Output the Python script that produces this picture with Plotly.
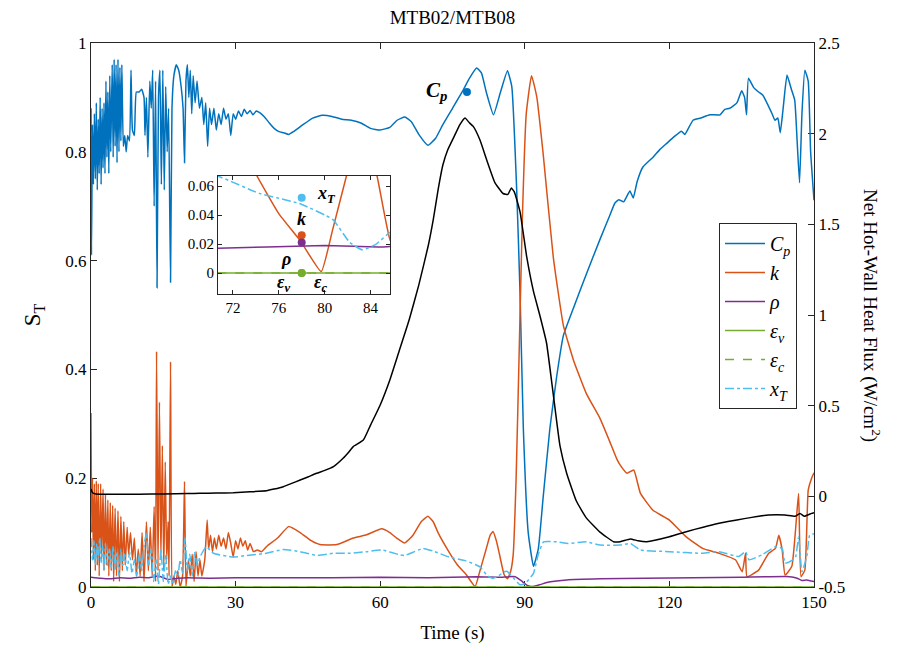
import plotly.graph_objects as go

# ---------------- data ----------------
cp_t = [0.0, 0.1, 0.3, 0.5, 0.7, 0.9, 1.1, 1.3, 1.5, 1.7, 1.9, 2.1, 2.3, 2.5, 2.7, 2.9, 3.1, 3.3, 3.5, 3.7,
        3.9, 4.1, 4.4, 4.6, 4.8, 5.0, 5.2, 5.4, 5.6, 5.8, 6.0, 6.2, 6.4, 6.7, 7.0, 7.3, 7.6, 8.0, 8.3, 8.6,
        9.0, 9.4, 10.0, 10.5, 11.0, 11.2, 11.5, 11.8, 12.2, 12.5, 12.8, 13.1, 13.4, 13.7, 14.0, 14.3, 14.6,
        14.9, 15.2, 15.5, 15.8, 16.1, 16.5, 16.8, 17.2, 17.7, 18.2, 18.7, 19.1, 19.4, 19.7, 20.0, 20.3, 20.6,
        20.9, 21.2, 21.6, 22.0, 22.5, 23.0, 23.4, 23.8, 24.2, 24.6, 25.0, 25.5, 26.0, 26.5, 27.0, 27.5, 28.0,
        28.5, 29.0, 29.5, 30.0, 30.6, 31.2, 31.8, 32.4, 33.0, 33.6, 34.3, 35, 36, 37, 38, 39, 40, 41, 42, 44,
        46, 48, 50, 52, 54, 56, 58, 60, 62, 63.5, 65.1, 66.5, 68, 69.9, 71.5, 73, 75, 77, 78.5, 80, 81, 82,
        83.5, 84.9, 86.4, 87.3, 88.3, 89, 89.7, 90.7, 91.8, 92.8, 93.8, 95.2, 96.6, 98, 100.1, 102.8, 105.6,
        107.5, 108.7, 109.5, 110.5, 111.8, 112.5, 113.3, 114.5, 116.7, 118, 119.5, 121, 122.5, 123.2, 124.9,
        126.5, 128.4, 130.5, 131.5, 132.5, 134, 135, 135.6, 136, 136.4, 137.5, 138.5, 139.4, 140.5, 141.3,
        141.9, 142.5, 143, 143.6, 144.4, 145.3, 146, 146.5, 147, 147.5, 148.1, 148.8, 149.3, 150]
cp_v = [0.88, 0.61, 0.85, 0.74, 0.87, 0.75, 0.89, 0.73, 0.86, 0.76, 0.90, 0.74, 0.88, 0.77, 0.89, 0.76, 0.93, 0.79,
        0.91, 0.76, 0.94, 0.80, 0.96, 0.79, 0.97, 0.81, 0.96, 0.78, 0.97, 0.80, 0.955, 0.82, 0.96, 0.81, 0.83,
        0.80, 0.83, 0.82, 0.95, 0.84, 0.83, 0.91, 0.91, 0.915, 0.90, 0.83, 0.90, 0.79, 0.93, 0.88, 0.95, 0.70,
        0.93, 0.55, 0.90, 0.95, 0.74, 0.95, 0.73, 0.92, 0.80, 0.88, 0.56, 0.88, 0.94, 0.96, 0.95, 0.92, 0.88,
        0.78, 0.93, 0.96, 0.90, 0.95, 0.87, 0.94, 0.89, 0.93, 0.88, 0.90, 0.85, 0.89, 0.81, 0.88, 0.85, 0.88,
        0.84, 0.87, 0.85, 0.88, 0.86, 0.87, 0.83, 0.87, 0.86, 0.875, 0.865, 0.878, 0.87, 0.876, 0.868, 0.875,
        0.872, 0.864, 0.853, 0.843, 0.837, 0.835, 0.832, 0.837, 0.85, 0.862, 0.867, 0.865, 0.86, 0.858, 0.853,
        0.843, 0.84, 0.845, 0.858, 0.864, 0.855, 0.832, 0.812, 0.825, 0.85, 0.88, 0.91, 0.935, 0.954, 0.945,
        0.91, 0.868, 0.908, 0.949, 0.92, 0.734, 0.544, 0.291, 0.101, 0.038, 0.07, 0.164, 0.291, 0.386, 0.462,
        0.513, 0.576, 0.639, 0.68, 0.706, 0.712, 0.708, 0.728, 0.715, 0.745, 0.772, 0.791, 0.804, 0.816, 0.828,
        0.838, 0.832, 0.858, 0.862, 0.868, 0.868, 0.878, 0.88, 0.89, 0.912, 0.9, 0.868, 0.935, 0.918, 0.91,
        0.904, 0.885, 0.87, 0.858, 0.862, 0.835, 0.88, 0.941, 0.915, 0.895, 0.82, 0.743, 0.87, 0.95, 0.93,
        0.8, 0.711]

k_t = [0.0, 0.15, 0.3, 0.5, 0.7, 0.9, 1.1, 1.3, 1.5, 1.7, 2.0, 2.2, 2.5, 2.7, 3.0, 3.2, 3.5, 3.7, 4.0, 4.2,
       4.5, 4.7, 5.0, 5.3, 5.6, 5.9, 6.2, 6.5, 6.8, 7.1, 7.5, 7.8, 8.2, 8.6, 9.0, 9.4, 9.8, 10.2, 10.6, 11.0,
       11.5, 11.9, 12.3, 12.7, 13.1, 13.4, 13.6, 13.9, 14.2, 14.5, 14.8, 15.1, 15.4, 15.7, 16.0, 16.2, 16.5,
       16.8, 17.2, 17.6, 18.0, 18.5, 19.0, 19.4, 19.7, 20.2, 20.6, 21.0, 21.4, 21.8, 22.2, 22.6, 23.0, 23.6,
       24.1, 24.4, 24.8, 25.2, 25.6, 26.0, 26.5, 27.0, 27.5, 28.0, 28.5, 29.0, 29.5, 30.0, 30.5, 31.0, 31.5,
       32.0, 32.5, 33.0, 33.7, 34.5, 35.4, 36.5, 38.7, 41, 43.4, 45.5, 47.5, 51, 54.4, 57.2, 60.3, 62, 63.4,
       65.1, 66.8, 68.5, 69.9, 71, 72, 74.1, 76, 77.9, 79.7, 80.7, 81.9, 82.8, 83.4, 84.1, 84.7, 85.7, 86.4,
       87.1, 87.6, 88.2, 88.8, 89.5, 90.3, 91.4, 92.5, 93.8, 95.9, 98, 100.1, 102.8, 105.6, 107.5, 109.1,
       109.8, 111.2, 112.6, 114, 116.6, 120, 123.5, 126.9, 130.3, 133.7, 135.1, 135.8, 136.1, 138.5, 140.6,
       142, 142.7, 143.4, 144, 145.4, 146.8, 147.3, 148.1, 148.8, 149.5, 150]
k_v = [0.32, 0.10, 0.20, 0.05, 0.19, 0.03, 0.195, 0.04, 0.19, 0.02, 0.19, 0.05, 0.18, 0.03, 0.17, 0.04, 0.16,
       0.02, 0.155, 0.03, 0.15, 0.01, 0.145, 0.02, 0.14, 0.01, 0.13, 0.03, 0.12, 0.04, 0.11, 0.06, 0.10, 0.05,
       0.09, 0.02, 0.07, 0.02, 0.10, 0.01, 0.12, 0.03, 0.11, 0.02, 0.148, 0.01, 0.433, 0.03, 0.34, 0.05, 0.26,
       0.03, 0.23, 0.05, 0.12, 0.02, 0.414, 0.0, 0.02, 0.005, 0.03, 0.0, 0.02, 0.194, 0.0, 0.05, 0.02, 0.06,
       0.01, 0.065, 0.02, 0.05, 0.02, 0.05, 0.123, 0.07, 0.095, 0.065, 0.09, 0.07, 0.095, 0.075, 0.09, 0.07,
       0.1, 0.08, 0.055, 0.085, 0.07, 0.09, 0.075, 0.085, 0.068, 0.08, 0.065, 0.068, 0.065, 0.075, 0.09, 0.111,
       0.10, 0.086, 0.078, 0.078, 0.09, 0.096, 0.107, 0.10, 0.09, 0.081, 0.095, 0.12, 0.13, 0.12, 0.10, 0.067,
       0.041, 0.022, 0.001, 0.03, 0.067, 0.095, 0.102, 0.085, 0.062, 0.023, 0.015, 0.03, 0.06, 0.2, 0.42,
       0.68, 0.87, 0.94, 0.9, 0.797, 0.607, 0.481, 0.417, 0.355, 0.31, 0.27, 0.235, 0.224, 0.209, 0.215,
       0.172, 0.141, 0.123, 0.092, 0.071, 0.062, 0.05, 0.028, 0.062, 0.019, 0.031, 0.062, 0.071, 0.095, 0.068,
       0.022, 0.038, 0.172, 0.019, 0.031, 0.178, 0.2, 0.21]

rho_t = [0, 2, 4, 6, 8, 10, 12, 14, 16, 18, 20, 25, 30, 40, 50, 60, 70, 80, 85, 88, 89.5, 90.5, 91.5, 93, 95,
         98.7, 105.6, 115, 125, 135, 145, 146.5, 147.5, 148.5, 150]
rho_v = [0.018, 0.016, 0.015, 0.017, 0.016, 0.018, 0.017, 0.02, 0.014, 0.016, 0.017, 0.016, 0.017, 0.017,
         0.017, 0.018, 0.017, 0.019, 0.018, 0.019, 0.01, 0.003, 0.001, 0.004, 0.009, 0.013, 0.015, 0.016,
         0.017, 0.018, 0.019, 0.016, 0.012, 0.013, 0.01]

eps_t = [0, 150]
epsv_v = [0, 0]
epsc_v = [0, 0]

xt_t = [0, 0.3, 0.6, 0.9, 1.2, 1.5, 1.8, 2.1, 2.4, 2.7, 3.0, 3.4, 3.8, 4.2, 4.6, 5.0, 5.4, 5.8, 6.2, 6.6, 7.0,
        7.5, 8.0, 8.5, 9.0, 9.5, 10.0, 10.5, 11.0, 11.5, 12.0, 12.5, 13.0, 13.5, 14.0, 14.5, 15.0, 15.5, 16.0,
        16.5, 17.0, 17.5, 18.0, 18.5, 19.0, 19.5, 20.0, 20.5, 21.0, 21.5, 22.0, 22.6, 23.9, 25.4, 29.5, 32.3,
        36.4, 39.9, 43.4, 46.8, 50.3, 53.8, 57.2, 60.3, 64.1, 65.1, 68.9, 71, 74.3, 77.8, 80.7, 82.2, 83.3,
        84.5, 85.7, 86.3, 87.5, 89, 90, 91.8, 92.8, 93.9, 96.6, 99, 102.8, 105.6, 109.8, 111.9, 114, 120,
        126.9, 130.3, 134.4, 135.8, 136.5, 139.2, 142, 143.4, 144, 146.1, 146.8, 147.5, 148.5, 149.1, 150]
xt_v = [0.09, 0.05, 0.085, 0.04, 0.08, 0.05, 0.09, 0.045, 0.075, 0.03, 0.08, 0.04, 0.07, 0.035, 0.075, 0.03,
        0.065, 0.02, 0.07, 0.04, 0.06, 0.03, 0.065, 0.025, 0.05, 0.02, 0.06, 0.03, 0.075, 0.1, 0.04, 0.07,
        0.01, 0.05, 0.005, 0.07, 0.01, 0.06, 0.005, 0.02, 0.005, 0.03, 0.02, 0.05, 0.025, 0.09, 0.03, 0.06,
        0.02, 0.065, 0.04, 0.055, 0.074, 0.062, 0.055, 0.058, 0.062, 0.069, 0.065, 0.058, 0.062, 0.062, 0.065,
        0.068, 0.059, 0.058, 0.071, 0.066, 0.055, 0.048, 0.037, 0.021, 0.016, 0.02, 0.028, 0.029, 0.018,
        0.004, 0.006, 0.025, 0.06, 0.083, 0.083, 0.08, 0.083, 0.077, 0.077, 0.08, 0.068, 0.065, 0.062, 0.065,
        0.056, 0.065, 0.05, 0.059, 0.074, 0.071, 0.044, 0.053, 0.092, 0.028, 0.056, 0.095, 0.098]

q_t = [0, 0.3, 1, 5, 10, 15, 20, 22.6, 26, 29.5, 33, 36.4, 38, 39.9, 41.5, 43.4, 45, 46.8, 48.5, 50.3, 52.3,
       53.5, 54.4, 56.5, 58, 60, 62, 64, 66, 68, 70, 71, 72, 73, 74, 75.5, 76.5, 77.6, 78.5, 79.3, 80.7, 82.1,
       83.8, 85.5, 86.5, 87.2, 87.8, 89, 90.4, 91.8, 93.1, 94.5, 95.9, 97.3, 98.7, 100.7, 102.8, 105.6, 108.4,
       109.8, 111.9, 113.5, 115.3, 120, 123.5, 127, 130.3, 134, 137.1, 140.6, 144, 146.1, 147.1, 148, 149.5,
       150]
q_v = [0.04, 0.02, 0.013, 0.012, 0.012, 0.013, 0.015, 0.017, 0.018, 0.02, 0.025, 0.031, 0.04, 0.053, 0.07,
       0.09, 0.107, 0.127, 0.143, 0.164, 0.21, 0.245, 0.274, 0.31, 0.393, 0.504, 0.642, 0.807, 0.972, 1.165,
       1.386, 1.524, 1.689, 1.827, 1.91, 1.993, 2.048, 2.086, 2.06, 2.04, 1.965, 1.855, 1.73, 1.67, 1.665,
       1.7, 1.68, 1.57, 1.32, 1.13, 1.0, 0.847, 0.564, 0.278, 0.126, -0.026, -0.12, -0.197, -0.25, -0.25,
       -0.235, -0.245, -0.25, -0.223, -0.195, -0.17, -0.149, -0.13, -0.116, -0.103, -0.103, -0.11, -0.094,
       -0.11, -0.094, -0.09]

# markers (S_T at t = 78 s)
mark_t = 78
mark_cp = 0.91
mark_xt = 0.052
mark_k = 0.026
mark_rho = 0.021
mark_eps = 0.0

x_ticks = [0, 30, 60, 90, 120, 150]
y_ticks = [0, 0.2, 0.4, 0.6, 0.8, 1]
y_ticklabels = ["0", "0.2", "0.4", "0.6", "0.8", "1"]
y2_ticks = [-0.5, 0, 0.5, 1, 1.5, 2, 2.5]
y2_ticklabels = ["-0.5", "0", "0.5", "1", "1.5", "2", "2.5"]
inset_xticks = [72, 76, 80, 84]
inset_yticks = [0, 0.02, 0.04, 0.06]
inset_yticklabels = ["0", "0.02", "0.04", "0.06"]

# ---------------- style ----------------
C_BLUE = "#0072BD"
C_ORANGE = "#D95319"
C_PURPLE = "#7E2F8E"
C_GREEN = "#77AC30"
C_CYAN = "#4DBEEE"
FONT = "Liberation Serif"
AX = "#262626"
LW = 1.5

fig = go.Figure()

def add_series(xa, ya, show):
    fig.add_trace(go.Scatter(x=cp_t, y=cp_v, mode="lines", name="<i>C<sub>p</sub></i>",
                             line=dict(color=C_BLUE, width=LW, shape="spline", smoothing=0.4),
                             xaxis=xa, yaxis=ya, showlegend=show))
    fig.add_trace(go.Scatter(x=k_t, y=k_v, mode="lines", name="<i>k</i>",
                             line=dict(color=C_ORANGE, width=LW, shape="spline", smoothing=0.4),
                             xaxis=xa, yaxis=ya, showlegend=show))
    fig.add_trace(go.Scatter(x=rho_t, y=rho_v, mode="lines", name="<i>ρ</i>",
                             line=dict(color=C_PURPLE, width=LW, shape="spline", smoothing=0.4),
                             xaxis=xa, yaxis=ya, showlegend=show))
    fig.add_trace(go.Scatter(x=eps_t, y=epsv_v, mode="lines", name="<i>ε<sub>v</sub></i>",
                             line=dict(color=C_GREEN, width=LW),
                             xaxis=xa, yaxis=ya, showlegend=show))
    fig.add_trace(go.Scatter(x=eps_t, y=epsc_v, mode="lines", name="<i>ε<sub>c</sub></i>",
                             line=dict(color=C_GREEN, width=LW, dash="dash"),
                             xaxis=xa, yaxis=ya, showlegend=show))
    fig.add_trace(go.Scatter(x=xt_t, y=xt_v, mode="lines", name="<i>x<sub>T</sub></i>",
                             line=dict(color=C_CYAN, width=LW, dash="dashdot", shape="spline", smoothing=0.4),
                             xaxis=xa, yaxis=ya, showlegend=show))

add_series("x", "y", True)

# heat flux on right axis
fig.add_trace(go.Scatter(x=q_t, y=q_v, mode="lines", name="q", line=dict(color="black", width=LW,
                         shape="spline", smoothing=0.4), xaxis="x", yaxis="y2", showlegend=False))

# C_p marker
fig.add_trace(go.Scatter(x=[mark_t], y=[mark_cp], mode="markers", marker=dict(color=C_BLUE, size=8),
                         xaxis="x", yaxis="y", showlegend=False))

# inset
add_series("x3", "y3", False)
fig.add_trace(go.Scatter(x=[mark_t] * 5, y=[mark_xt, mark_k, mark_rho, mark_eps, mark_eps], mode="markers",
                         marker=dict(color=[C_CYAN, C_ORANGE, C_PURPLE, C_GREEN, C_GREEN], size=8),
                         xaxis="x3", yaxis="y3", showlegend=False))

# page body has an 8px margin: shrink the figure so the plot area lands where the reference has it
OFF = 8
L, R, T, B = 91 - OFF, 87 - OFF, 43 - OFF, 70 - OFF
W, H = 901 - 2 * OFF, 657 - 2 * OFF
pw, ph = 723, 544

def px_x(p):
    return (p - 91) / pw

def px_y(p):
    return (587 - p) / ph

tickfont = dict(family=FONT, size=17, color="black")
axcommon = dict(showgrid=False, zeroline=False, showline=True, linecolor=AX, linewidth=1,
                ticks="inside", ticklen=6, tickcolor=AX, tickfont=tickfont)
insetcommon = {**axcommon, "tickfont": dict(family=FONT, size=15, color="black"), "ticklen": 4}

fig.update_layout(
    width=W, height=H,
    margin=dict(l=L, r=R, t=T, b=B, autoexpand=False),
    paper_bgcolor="white", plot_bgcolor="white",
    font=dict(family=FONT, color="black"),
    title=dict(text="MTB02/MTB08", x=0.5, xref="paper", y=1 - (17 - OFF) / H, yanchor="middle",
               font=dict(family=FONT, size=19, color="black")),
    xaxis=dict(range=[0, 150], tickvals=x_ticks, mirror="ticks", domain=[0, 1],
               title=dict(text="Time (s)", font=dict(family=FONT, size=19), standoff=14),
               layer="below traces", **axcommon),
    yaxis=dict(range=[0, 1], tickvals=y_ticks, ticktext=y_ticklabels, domain=[0, 1],
               title=dict(text="S<sub>T</sub>", font=dict(family=FONT, size=23), standoff=18),
               layer="below traces", **axcommon),
    yaxis2=dict(range=[-0.5, 2.5], tickvals=y2_ticks, ticktext=y2_ticklabels, overlaying="y", side="right",
                anchor="x", layer="below traces", **axcommon),
    xaxis3=dict(domain=[px_x(218), px_x(390)], range=[70.7, 85.7], tickvals=inset_xticks, anchor="y3",
                mirror="ticks", **insetcommon),
    yaxis3=dict(domain=[px_y(294), px_y(176)], range=[-0.0145, 0.067], tickvals=inset_yticks,
                ticktext=inset_yticklabels, anchor="x3", mirror="ticks", **insetcommon),
    legend=dict(x=px_x(719), y=px_y(223), xanchor="left", yanchor="top", bgcolor="white",
                bordercolor=AX, borderwidth=1, font=dict(family=FONT, size=20, color="black"),
                itemwidth=40, tracegroupgap=0),
    showlegend=True,
)

ann_font = dict(family=FONT, size=18, color="black")
annotations = [
    dict(text="Net Hot-Wall Heat Flux (W/cm<sup>2</sup>)", x=px_x(872), y=0.5, xref="paper", yref="paper",
         xanchor="center", yanchor="middle", textangle=90, showarrow=False,
         font=dict(family=FONT, size=19, color="black")),
    dict(text="<b><i>C<sub>p</sub></i></b>", x=74.3, y=mark_cp + 0.002, xref="x", yref="y", xanchor="right",
         showarrow=False, font=dict(family=FONT, size=21, color="black")),
    dict(text="<b><i>x<sub>T</sub></i></b>", x=79.2, y=mark_xt + 0.002, xref="x3", yref="y3", xanchor="left",
         showarrow=False, font=ann_font),
    dict(text="<b><i>k</i></b>", x=mark_t, y=0.037, xref="x3", yref="y3", showarrow=False, font=ann_font),
    dict(text="<b><i>ρ</i></b>", x=76.6, y=0.010, xref="x3", yref="y3", showarrow=False, font=ann_font),
    dict(text="<b><i>ε<sub>v</sub></i></b>", x=76.4, y=-0.0075, xref="x3", yref="y3", showarrow=False,
         font=ann_font),
    dict(text="<b><i>ε<sub>c</sub></i></b>", x=79.6, y=-0.0075, xref="x3", yref="y3", showarrow=False,
         font=ann_font),
]
fig.update_layout(annotations=annotations)

fig.write_html("out.html")
